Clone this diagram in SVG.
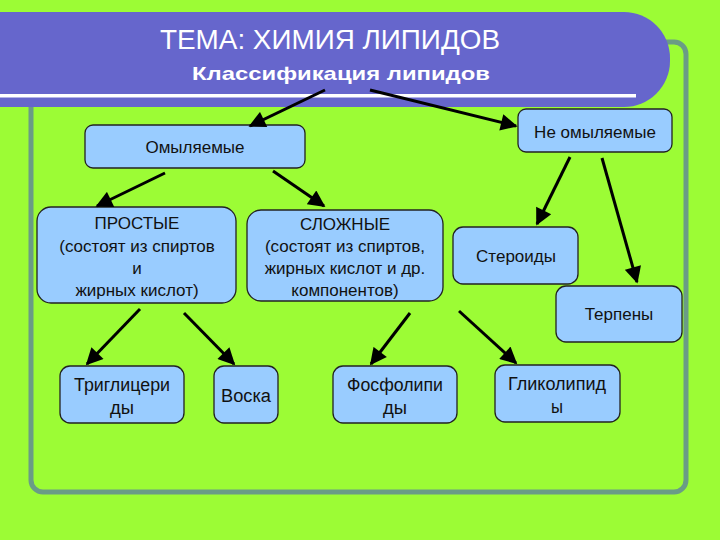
<svg xmlns="http://www.w3.org/2000/svg" width="720" height="540" viewBox="0 0 720 540">
<defs>
<marker id="ah" viewBox="0 0 10 10" refX="9" refY="5" markerWidth="6.2" markerHeight="5.6" markerUnits="strokeWidth" orient="auto">
<path d="M0,0 L10,5 L0,10 z" fill="#000"/>
</marker>
<style>
.node rect{fill:#99CCFF;stroke:#222;stroke-width:1.3}
.t{font-family:"Liberation Sans",Arial,sans-serif;font-size:17px;fill:#111;text-anchor:middle}
.n{font-family:"Liberation Sans",Arial,sans-serif;font-size:18px;fill:#111;text-anchor:middle}
.conn line{stroke:#000;stroke-width:3;marker-end:url(#ah)}
</style>
</defs>
<rect x="0" y="0" width="720" height="540" fill="#9CFC35"/>
<rect x="31" y="42" width="655" height="450" rx="12" fill="none" stroke="#6A9C86" stroke-width="5"/>
<g id="header">
<rect x="-80" y="12" width="750" height="95" rx="46" fill="#6666CC"/>
<rect x="0" y="94" width="636" height="3.5" fill="#FFFFFF"/>
<text x="330" y="49" font-family="Liberation Sans,Arial,sans-serif" font-size="27" fill="#FFFFFF" text-anchor="middle" textLength="340" lengthAdjust="spacingAndGlyphs">ТЕМА: ХИМИЯ ЛИПИДОВ</text>
<text x="341" y="80" font-family="Liberation Sans,Arial,sans-serif" font-size="19" font-weight="bold" fill="#FFFFFF" text-anchor="middle" textLength="298" lengthAdjust="spacingAndGlyphs">Классификация липидов</text>
</g>
<g id="omyl" class="node"><rect x="85" y="125" width="220" height="43" rx="8"/><text class="t" x="195" y="153">Омыляемые</text></g>
<g id="neomyl" class="node"><rect x="518" y="109" width="154" height="43" rx="8"/><text class="t" x="595" y="138">Не омыляемые</text></g>
<g id="prostye" class="node"><rect x="37" y="207" width="199" height="96" rx="14"/>
<text class="t" x="137" y="229">ПРОСТЫЕ</text>
<text class="t" x="137" y="252">(состоят из спиртов</text>
<text class="t" x="137" y="274">и</text>
<text class="t" x="137" y="296">жирных кислот)</text></g>
<g id="slozhnye" class="node"><rect x="247" y="210" width="196" height="91" rx="14"/>
<text class="t" x="345" y="230">СЛОЖНЫЕ</text>
<text class="t" x="345" y="252">(состоят из спиртов,</text>
<text class="t" x="345" y="274">жирных кислот и др.</text>
<text class="t" x="345" y="296">компонентов)</text></g>
<g id="steroidy" class="node"><rect x="453" y="227" width="125" height="57" rx="10"/><text class="t" x="516" y="262">Стероиды</text></g>
<g id="terpeny" class="node"><rect x="556" y="286" width="126" height="56" rx="10"/><text class="t" x="619" y="320">Терпены</text></g>
<g id="trigl" class="node"><rect x="60" y="366" width="124" height="57" rx="10"/>
<text class="n" x="122" y="391" textLength="96" lengthAdjust="spacingAndGlyphs">Триглицери</text>
<text class="n" x="122" y="414" textLength="24" lengthAdjust="spacingAndGlyphs">ды</text></g>
<g id="voska" class="node"><rect x="214" y="366" width="64" height="57" rx="10"/>
<text class="n" x="246" y="402" textLength="50" lengthAdjust="spacingAndGlyphs">Воска</text></g>
<g id="fosfo" class="node"><rect x="333" y="366" width="124" height="57" rx="10"/>
<text class="n" x="395" y="391" textLength="96" lengthAdjust="spacingAndGlyphs">Фосфолипи</text>
<text class="n" x="395" y="414" textLength="24" lengthAdjust="spacingAndGlyphs">ды</text></g>
<g id="gliko" class="node"><rect x="495" y="365" width="125" height="57" rx="10"/>
<text class="n" x="557" y="390" textLength="98" lengthAdjust="spacingAndGlyphs">Гликолипид</text>
<text class="n" x="557" y="413" textLength="12" lengthAdjust="spacingAndGlyphs">ы</text></g>
<g id="connectors" class="conn">
<line x1="325" y1="90" x2="250" y2="126"/>
<line x1="370" y1="90" x2="516" y2="126"/>
<line x1="165" y1="173" x2="97" y2="206"/>
<line x1="273" y1="171" x2="324" y2="206"/>
<line x1="570" y1="157" x2="537" y2="224"/>
<line x1="602" y1="158" x2="637" y2="282"/>
<line x1="140" y1="309" x2="87" y2="364"/>
<line x1="184" y1="313" x2="234" y2="364"/>
<line x1="410" y1="313" x2="371" y2="364"/>
<line x1="459" y1="311" x2="516" y2="363"/>
</g>
</svg>
